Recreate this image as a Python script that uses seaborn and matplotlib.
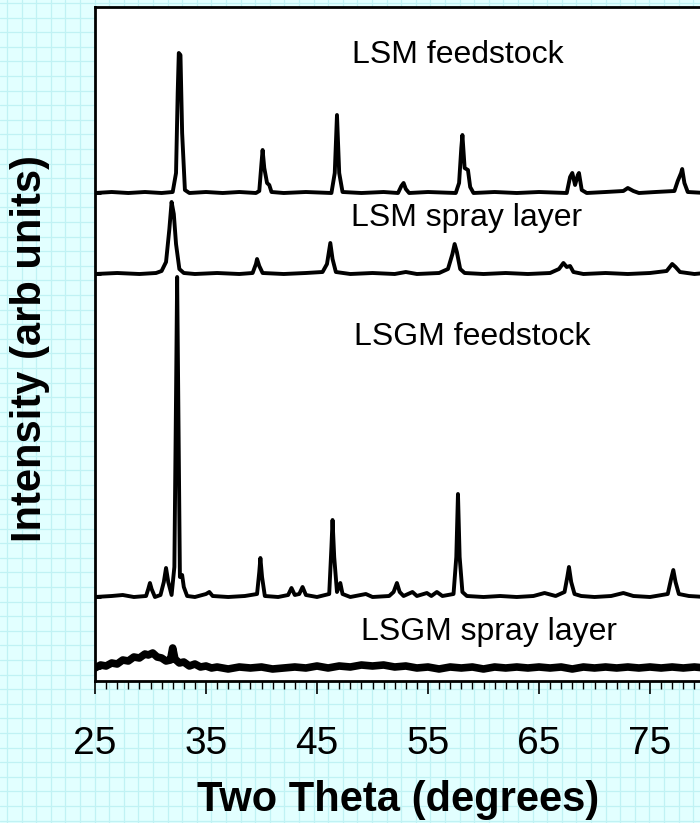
import numpy as np
import pandas as pd
import matplotlib
matplotlib.use('Agg')
import matplotlib.pyplot as plt
from matplotlib.ticker import FixedLocator, MultipleLocator
import seaborn as sns

# traces: 2-theta (deg) and intensity above each trace's own baseline (arb units)
lsm_feed_tt = [25.0, 26.5, 28.0, 29.5, 31.0, 32.0, 32.3, 32.45, 32.55, 32.7, 32.85, 33.1, 33.5, 35.0, 36.5,
               38.0, 39.5, 39.8, 40.0, 40.1, 40.25, 40.5, 40.7, 40.9, 42.0, 44.0, 46.3, 46.6, 46.8, 47.0,
               47.3, 49.0, 51.0, 52.3, 52.6, 52.8, 53.0, 53.3, 55.0, 57.5, 57.8, 58.0, 58.1, 58.3, 58.6,
               58.8, 59.1, 61.0, 63.0, 65.0, 67.5, 67.8, 68.0, 68.25, 68.5, 68.6, 68.85, 69.3, 71.0, 72.6,
               73.0, 73.5, 74.0, 75.5, 77.2, 77.5, 77.8, 77.9, 78.1, 78.4, 80.0]
lsm_feed_i = [0, 1, 0, 1, 0, 1, 20, 100, 140, 138, 60, 3, 0, 1, 0,
              1, 0, 2, 30, 43, 25, 10, 8, 1, 0, 1, 0, 20, 78, 20,
              1, 0, 1, 0, 7, 10, 4, 0, 1, 0, 10, 45, 58, 25, 23,
              6, 0, 1, 0, 1, 0, 16, 20, 8, 18, 20, 3, 0, 1, 2,
              5, 2, 0, 1, 2, 12, 20, 24, 10, 1, 0]

lsm_spray_tt = [25.0, 27.0, 29.0, 30.5, 31.0, 31.4, 31.7, 31.9, 32.1, 32.3, 32.6, 33.0, 34.0, 36.0, 38.0,
                39.2, 39.5, 39.6, 39.8, 40.1, 42.0, 44.0, 45.5, 45.9, 46.2, 46.4, 46.7, 48.0, 50.0, 52.0,
                53.0, 54.0, 56.0, 56.8, 57.2, 57.4, 57.6, 57.9, 58.3, 60.0, 62.0, 64.0, 66.0, 66.8, 67.2,
                67.5, 67.8, 68.1, 69.0, 71.0, 73.0, 75.0, 76.5, 77.0, 77.3, 77.7, 79.0, 80.0]
lsm_spray_i = [0, 1, 0, 1, 3, 12, 45, 72, 60, 30, 5, 1, 0, 1, 0,
               1, 10, 15, 8, 1, 0, 1, 2, 10, 31, 15, 2, 0, 1, 0,
               2, 0, 1, 5, 20, 30, 22, 5, 1, 0, 1, 0, 1, 5, 11,
               7, 8, 2, 0, 1, 0, 1, 3, 10, 7, 2, 0, 1]

lsgm_feed_tt = [25.0, 26.5, 27.5, 28.5, 29.6, 29.8, 29.95, 30.1, 30.4, 30.9, 31.2, 31.4, 31.6, 31.9, 32.15,
                32.3, 32.4, 32.5, 32.65, 32.85, 33.0, 33.3, 34.0, 35.0, 35.3, 35.6, 37.0, 38.5, 39.6, 39.8,
                39.9, 40.05, 40.3, 41.5, 42.4, 42.7, 43.0, 43.4, 43.7, 44.0, 45.0, 46.1, 46.3, 46.4, 46.55,
                46.8, 47.1, 47.3, 48.0, 49.4, 50.0, 51.5, 51.9, 52.2, 52.45, 52.8, 53.6, 54.0, 54.9, 55.3,
                55.8, 56.3, 57.3, 57.55, 57.7, 57.85, 58.1, 58.5, 60.0, 61.5, 63.0, 64.5, 65.5, 66.5, 67.3,
                67.55, 67.7, 67.9, 68.2, 68.8, 70.0, 71.5, 72.6, 73.5, 75.0, 76.6, 76.9, 77.1, 77.3, 77.6,
                78.5, 80.0]
lsgm_feed_i = [0, 1, 2, 0, 1, 8, 14, 8, 0, 2, 15, 29, 15, 2, 30,
               200, 320, 200, 20, 22, 10, 1, 0, 3, 5, 1, 0, 1, 3, 25,
               39, 20, 1, 0, 2, 9, 2, 3, 10, 2, 0, 3, 50, 77, 40,
               5, 14, 3, 0, 3, 0, 1, 5, 14, 5, 1, 5, 1, 4, 1,
               5, 1, 3, 40, 103, 40, 5, 1, 0, 1, 0, 1, 4, 1, 5,
               20, 30, 15, 3, 1, 0, 1, 4, 1, 0, 3, 18, 27, 15, 3,
               1, 0]

lsgm_spray_tt = [25.0, 25.5, 26.0, 26.5, 27.0, 27.5, 28.0, 28.5, 29.0, 29.5, 29.8, 30.2, 30.6, 31.0, 31.4,
                 31.8, 32.0, 32.2, 32.6, 33.0, 33.5, 34.0, 34.5, 35.0, 35.5, 36.0, 37.0, 38.0, 39.0, 40.0,
                 41.0, 42.0, 43.0, 44.0, 45.0, 46.0, 47.0, 48.0, 49.0, 50.0, 51.0, 52.0, 53.0, 54.0, 55.0,
                 56.0, 57.0, 58.0, 59.0, 60.0, 61.0, 62.0, 63.0, 64.0, 65.0, 66.0, 67.0, 68.0, 69.0, 70.0,
                 71.0, 72.0, 73.0, 74.0, 75.0, 76.0, 77.0, 78.0, 79.0, 80.0]
lsgm_spray_i = [0, 3, 2, 5, 4, 8, 7, 11, 10, 14, 13, 15, 11, 10, 7,
                8, 20, 9, 5, 6, 2, 4, 1, 2, 0, 1, -1, 1, 0, 1,
                -1, 0, 1, 0, 2, 0, 2, 1, 3, 2, 3, 1, 2, 0, 1,
                -1, 1, 0, 1, -1, 1, 0, 1, 0, 1, 0, 1, -1, 1, 0,
                1, 0, 1, 0, 1, 0, 1, 0, 1, 0]

names = ['LSM feedstock', 'LSM spray layer', 'LSGM feedstock', 'LSGM spray layer']
offsets = [488, 407, 84, 13]
xticks = [25, 35, 45, 55, 65, 75]

traces = [(lsm_feed_tt, lsm_feed_i), (lsm_spray_tt, lsm_spray_i),
          (lsgm_feed_tt, lsgm_feed_i), (lsgm_spray_tt, lsgm_spray_i)]

sns.set_theme(style='white')
plt.rcParams['font.family'] = ['Liberation Sans', 'DejaVu Sans']
plt.rcParams['text.color'] = 'black'
plt.rcParams['axes.labelcolor'] = 'black'
plt.rcParams['xtick.color'] = 'black'
plt.rcParams['ytick.color'] = 'black'

bg_col = '#E2FFFF'
fig = plt.figure(figsize=(7, 8.23), dpi=100, facecolor=bg_col)

# graph-paper backdrop
bg = fig.add_axes([0, 0, 1, 1], zorder=-5)
bg.set_facecolor(bg_col)
bg.set_xlim(0, 700)
bg.set_ylim(823, 0)
bg.set_xticks(np.arange(7, 700, 14.6))
bg.set_yticks(np.arange(3, 823, 14.6))
bg.grid(True, color='#C0F2F4', lw=0.9)
bg.tick_params(length=0, labelbottom=False, labelleft=False)
for s in bg.spines.values():
    s.set_visible(False)

ax = fig.add_axes([95 / 700, 142 / 823, 610.5 / 700, 674 / 823])
ax.set_facecolor('white')

for (tt, inten), off, name in zip(traces, offsets, names):
    d = pd.DataFrame({'tt': tt, 'y': np.array(inten) + off})
    lw = 5.5 if name == 'LSGM spray layer' else 2.8
    sns.lineplot(data=d, x='tt', y='y', ax=ax, color='black', lw=lw,
                 estimator=None, sort=False)

# curve labels
ax.text(57.7, 626, 'LSM feedstock', fontsize=23, ha='center', va='center')
ax.text(58.5, 463, 'LSM spray layer', fontsize=23, ha='center', va='center')
ax.text(59.0, 344, 'LSGM feedstock', fontsize=23, ha='center', va='center')
ax.text(60.5, 49, 'LSGM spray layer', fontsize=23, ha='center', va='center')

ax.set_xlim(25, 80)
ax.set_ylim(0, 674)
ax.xaxis.set_major_locator(FixedLocator(xticks))
ax.xaxis.set_minor_locator(MultipleLocator(1))
ax.set_yticks(offsets)
ax.set_yticklabels([])
ax.tick_params(axis='x', which='major', direction='out', length=9.5, width=1.2,
               labelsize=28, pad=23, bottom=True, colors='black')
ax.tick_params(axis='x', which='minor', direction='out', length=6, width=1.0, bottom=True)
ax.tick_params(axis='y', direction='in', length=4, width=2, left=True)
for s in ax.spines.values():
    s.set_linewidth(2)
    s.set_color('black')

ax.set_xlabel('Two Theta (degrees)', fontsize=30, fontweight='bold')
ax.set_ylabel('Intensity (arb units)', fontsize=30, fontweight='bold')
ax.xaxis.label.set_va('center')
ax.yaxis.label.set_va('center')
ax.xaxis.set_label_coords(0.496, -0.177)
ax.yaxis.set_label_coords(-0.106, 0.4926)

fig.savefig('out.png', dpi=100, facecolor=bg_col)
